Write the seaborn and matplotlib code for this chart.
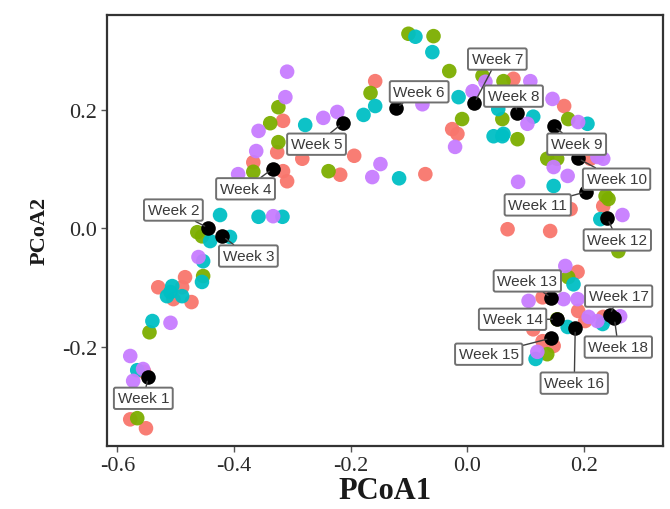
import matplotlib
matplotlib.use("Agg")
import matplotlib.pyplot as plt
import numpy as np
import pandas as pd
import seaborn as sns

# ---------------- data ----------------
red_x = [-0.578, -0.551, -0.554, -0.530, -0.484, -0.489, -0.504, -0.473, -0.367, -0.316,
         -0.326, -0.316, -0.309, -0.283, -0.218, -0.194, -0.158, -0.026, -0.017, -0.072,
         0.079, 0.166, 0.211, 0.233, 0.177, 0.069, 0.142, 0.189, 0.129, 0.190,
         0.202, 0.233, 0.113, 0.129, 0.148]
red_y = [-0.323, -0.338, -0.243, -0.100, -0.083, -0.100, -0.120, -0.125, 0.111, 0.181,
         0.128, 0.096, 0.079, 0.117, 0.090, 0.122, 0.248, 0.167, 0.159, 0.091,
         0.252, 0.206, 0.117, 0.037, 0.032, -0.002, -0.005, -0.074, -0.117, -0.140,
         -0.157, -0.150, -0.171, -0.191, -0.199]

green_x = [-0.566, -0.545, -0.453, -0.463, -0.455, -0.324, -0.338, -0.367, -0.324, -0.238,
           -0.166, -0.101, -0.058, -0.031, -0.009, 0.026, 0.062, 0.060, 0.086, 0.173,
           0.137, 0.154, 0.237, 0.242, 0.259, 0.173, 0.154, 0.137]
green_y = [-0.321, -0.176, -0.081, -0.007, -0.014, 0.204, 0.177, 0.095, 0.145, 0.096,
           0.228, 0.328, 0.324, 0.265, 0.184, 0.257, 0.248, 0.184, 0.150, 0.184,
           0.117, 0.117, 0.054, 0.049, -0.039, -0.083, -0.154, -0.213]

cyan_x = [-0.566, -0.540, -0.509, -0.506, -0.515, -0.489, -0.453, -0.455, -0.441, -0.424,
          -0.407, -0.358, -0.317, -0.278, -0.158, -0.178, -0.089, -0.060, -0.117, -0.015,
          0.045, 0.060, 0.053, 0.113, 0.062, 0.206, 0.148, 0.228, 0.182, 0.172,
          0.232, 0.117]
cyan_y = [-0.240, -0.157, -0.108, -0.098, -0.115, -0.115, -0.056, -0.091, -0.022, 0.022,
          -0.015, 0.019, 0.019, 0.174, 0.206, 0.191, 0.323, 0.297, 0.084, 0.221,
          0.155, 0.155, 0.201, 0.188, 0.159, 0.176, 0.071, 0.015, -0.095, -0.167,
          -0.162, -0.221]

purple_x = [-0.578, -0.556, -0.573, -0.509, -0.461, -0.333, -0.309, -0.312, -0.358, -0.362,
            -0.393, -0.247, -0.223, -0.163, -0.149, -0.077, 0.009, 0.031, 0.108, -0.021,
            0.103, 0.087, 0.146, 0.190, 0.148, 0.172, 0.233, 0.223, 0.266, 0.168,
            0.105, 0.165, 0.189, 0.208, 0.223, 0.262, 0.120]
purple_y = [-0.216, -0.238, -0.258, -0.160, -0.049, 0.020, 0.264, 0.221, 0.164, 0.130,
            0.091, 0.186, 0.196, 0.086, 0.108, 0.209, 0.231, 0.247, 0.248, 0.137,
            0.176, 0.078, 0.218, 0.179, 0.103, 0.088, 0.117, 0.120, 0.022, -0.064,
            -0.123, -0.120, -0.120, -0.150, -0.157, -0.149, -0.209]

weeks = [f"Week {i}" for i in range(1, 19)]
centroid_x = [-0.547, -0.444, -0.420, -0.334, -0.214, -0.122, 0.012, 0.086, 0.148, 0.189,
              0.203, 0.240, 0.144, 0.153, 0.143, 0.185, 0.244, 0.252]
centroid_y = [-0.252, 0.000, -0.0135, 0.100, 0.177, 0.203, 0.211, 0.194, 0.172, 0.118,
              0.061, 0.017, -0.118, -0.154, -0.186, -0.169, -0.147, -0.152]

# layout: label offsets in pixels (repel-like placement)
label_dx = [-5, -35, 26, -27, -26, 23, 23, -4, 23, 39, -48, 10, -24, -44, -62, -1, 9, 4]
label_dy = [-21, 18, -20, -20, -21, 16, 44, 17, -18, -21, -13, -22, 17, 0, -16, -55, 19, -29]

groups = ["G1", "G2", "G3", "G4"]
palette = {"G1": "#F8766D", "G2": "#7CAE00", "G3": "#00BFC4", "G4": "#C77CFF"}

df = pd.concat([
    pd.DataFrame({"PCoA1": red_x, "PCoA2": red_y, "group": "G1"}),
    pd.DataFrame({"PCoA1": green_x, "PCoA2": green_y, "group": "G2"}),
    pd.DataFrame({"PCoA1": cyan_x, "PCoA2": cyan_y, "group": "G3"}),
    pd.DataFrame({"PCoA1": purple_x, "PCoA2": purple_y, "group": "G4"}),
], ignore_index=True)
cent = pd.DataFrame({"PCoA1": centroid_x, "PCoA2": centroid_y, "week": weeks})

# ---------------- plot ----------------
sns.set_theme(style="white")
plt.rcParams["axes.unicode_minus"] = False

fig = plt.figure(figsize=(6.7, 5.1), dpi=100)
ax = fig.add_axes([0.160, 0.1235, 0.830, 0.8455])

sns.scatterplot(data=df, x="PCoA1", y="PCoA2", hue="group", palette=palette,
                hue_order=groups, s=110, linewidth=0, alpha=0.95, legend=False,
                ax=ax, zorder=2)
sns.scatterplot(data=cent, x="PCoA1", y="PCoA2", color="black", s=110,
                linewidth=0, legend=False, ax=ax, zorder=3)

for wk, x, y, dx, dy in zip(weeks, centroid_x, centroid_y, label_dx, label_dy):
    ax.annotate(wk, xy=(x, y), xytext=(dx, dy), textcoords="offset pixels",
                ha="center", va="center", fontsize=11, family="Liberation Sans",
                color="#3a3a3a", zorder=5,
                bbox=dict(boxstyle="round,pad=0.24,rounding_size=0.12", fc="white",
                          ec="#707070", lw=1.4),
                arrowprops=dict(arrowstyle="-", color="#404040", lw=1.0,
                                shrinkA=0, shrinkB=3))

ax.set_xlim(-0.6175, 0.336)
ax.set_ylim(-0.368, 0.360)
ax.set_xticks([-0.6, -0.4, -0.2, 0.0, 0.2])
ax.set_yticks([-0.2, 0.0, 0.2])
ax.set_xticklabels(["-0.6", "-0.4", "-0.2", "0.0", "0.2"])
ax.set_yticklabels(["-0.2", "0.0", "0.2"])
ax.tick_params(axis="both", which="both", direction="out", length=4, width=1,
               color="#555555", labelsize=16, labelcolor="#2a2a2a", pad=3,
               bottom=True, left=True)
for lab in ax.get_xticklabels() + ax.get_yticklabels():
    lab.set_family("Liberation Serif")

ax.set_xlabel("PCoA1", fontsize=22, fontweight="bold", family="Liberation Serif",
              color="#1a1a1a", labelpad=1)
ax.set_ylabel("PCoA2", fontsize=16, fontweight="bold", family="Liberation Serif",
              color="#1a1a1a", labelpad=9)

for sp in ax.spines.values():
    sp.set_visible(True)
    sp.set_color("#333333")
    sp.set_linewidth(1.6)
ax.set_facecolor("white")
fig.patch.set_facecolor("white")

fig.savefig("out.png", dpi=100)
